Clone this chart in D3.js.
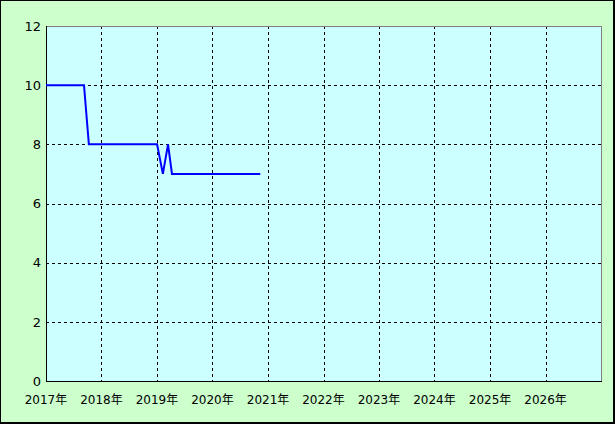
<!DOCTYPE html>
<html>
<head>
<meta charset="utf-8">
<script src="https://cdn.jsdelivr.net/npm/d3@7"></script>
<style>
  body { margin: 0; background: #fff; }
  text { font-family: "DejaVu Sans", "Noto Sans CJK JP", sans-serif; font-size: 12px; fill: #000; }
</style>
</head>
<body>
<div id="chart"></div>
<script>
// datos
var fechas = ["2017-01-01", "2017-09-08", "2017-10-10", "2019-01-02", "2019-02-09", "2019-03-15", "2019-04-10", "2020-11-11"];
var valores = [10, 10, 8, 8, 7, 8, 7, 7];
var anios = [2017, 2018, 2019, 2020, 2021, 2022, 2023, 2024, 2025, 2026];
var ticksY = [0, 2, 4, 6, 8, 10, 12];

var width = 615, height = 424;
var izq = 46, der = 601, arriba = 26, abajo = 381;

var parse = d3.timeParse("%Y-%m-%d");
var datos = fechas.map(function(f, i) { return { fecha: parse(f), valor: valores[i] }; });

var x = d3.scaleTime()
  .domain([new Date(2017, 0, 1), new Date(2027, 0, 1)])
  .range([izq, der]);
var y = d3.scaleLinear()
  .domain([0, 12])
  .range([abajo, arriba]);

var svg = d3.select("#chart").append("svg")
  .attr("width", width)
  .attr("height", height)
  .style("display", "block");

// fondo y borde con sombra
svg.append("rect").attr("x", 0).attr("y", 0).attr("width", 615).attr("height", 424).attr("fill", "#000");
svg.append("rect").attr("x", 1).attr("y", 1).attr("width", 612).attr("height", 421).attr("fill", "#ccffcc");

// area del grafico
svg.append("rect")
  .attr("x", izq).attr("y", arriba)
  .attr("width", der - izq).attr("height", abajo - arriba)
  .attr("fill", "#ccffff");

var g = svg.append("g").attr("shape-rendering", "crispEdges");

// grilla vertical
g.selectAll(".gv")
  .data(anios.slice(1))
  .enter().append("line")
  .attr("x1", function(d) { return Math.round(x(new Date(d, 0, 1))) + 0.5; })
  .attr("x2", function(d) { return Math.round(x(new Date(d, 0, 1))) + 0.5; })
  .attr("y1", arriba).attr("y2", abajo)
  .attr("stroke", "#000").attr("stroke-dasharray", "3,3");

// grilla horizontal
g.selectAll(".gh")
  .data(ticksY.slice(1, -1))
  .enter().append("line")
  .attr("x1", izq).attr("x2", der)
  .attr("y1", function(d) { return Math.round(y(d)) + 0.5; })
  .attr("y2", function(d) { return Math.round(y(d)) + 0.5; })
  .attr("stroke", "#000").attr("stroke-dasharray", "3,3");

// bordes del area
g.append("line").attr("x1", izq).attr("x2", der + 0.5).attr("y1", arriba + 0.5).attr("y2", arriba + 0.5).attr("stroke", "#808080");
g.append("line").attr("x1", der + 0.5).attr("x2", der + 0.5).attr("y1", arriba).attr("y2", abajo).attr("stroke", "#808080");
g.append("line").attr("x1", izq + 0.5).attr("x2", izq + 0.5).attr("y1", arriba).attr("y2", abajo + 1).attr("stroke", "#000");
g.append("line").attr("x1", izq).attr("x2", der + 1).attr("y1", abajo + 0.5).attr("y2", abajo + 0.5).attr("stroke", "#000");

// etiquetas eje y
svg.selectAll(".ty")
  .data(ticksY)
  .enter().append("text")
  .attr("x", izq - 5)
  .attr("y", function(d) { return y(d); })
  .attr("dy", "0.36em")
  .attr("text-anchor", "end")
  .style("font-size", "13px")
  .text(function(d) { return d; });

// etiquetas eje x
svg.selectAll(".tx")
  .data(anios)
  .enter().append("text")
  .attr("x", function(d) { return x(new Date(d, 0, 1)); })
  .attr("y", 404)
  .attr("text-anchor", "middle")
  .text(function(d) { return d + "年"; });

// linea
var linea = d3.line()
  .x(function(d) { return x(d.fecha); })
  .y(function(d) { return y(d.valor); });

svg.append("path")
  .datum(datos)
  .attr("d", linea)
  .attr("fill", "none")
  .attr("stroke", "#0000ff")
  .attr("stroke-width", 2);
</script>
</body>
</html>
